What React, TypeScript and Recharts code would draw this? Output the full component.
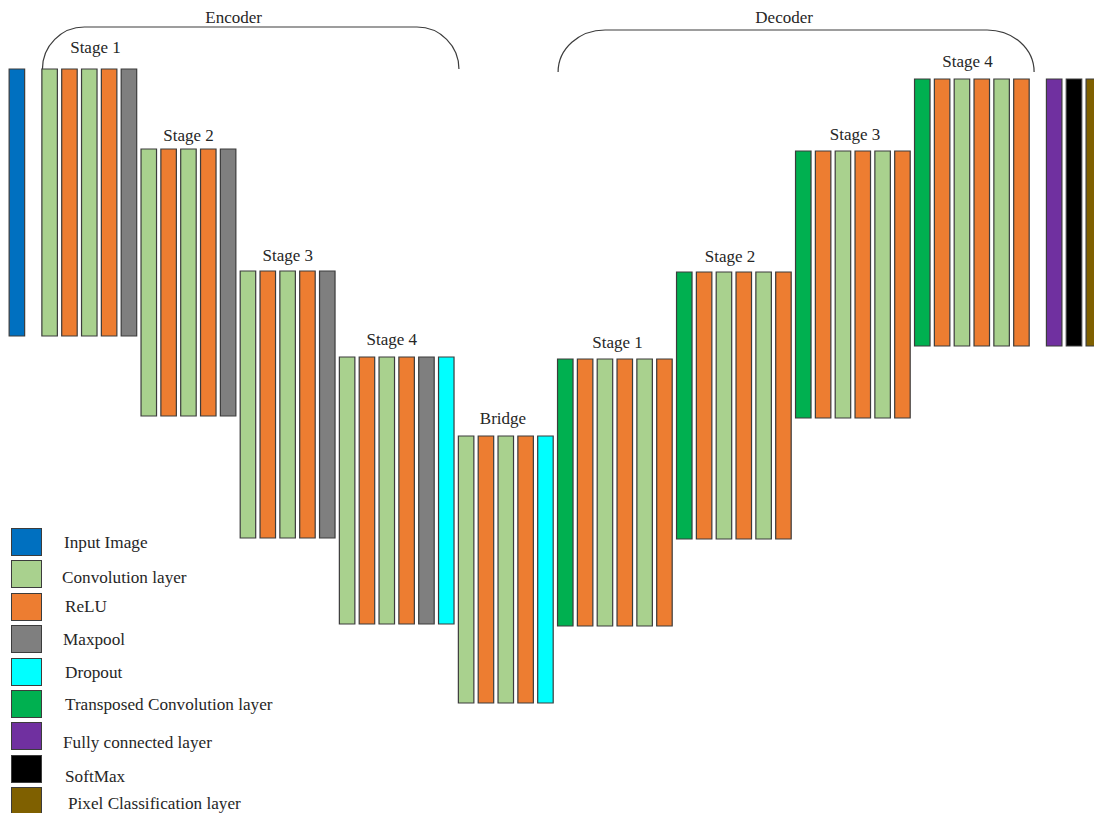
import React from "react";
import { ComposedChart, Bar, Cell, XAxis, YAxis, ReferenceArea, Legend } from "recharts";

type LayerType = "input" | "conv" | "relu" | "pool" | "drop" | "tconv" | "fc" | "softmax" | "pixel";

const LAYER_COLORS: Record<LayerType, string> = {
  input: "#0070C0",
  conv: "#A9D18E",
  relu: "#ED7D31",
  pool: "#7F7F7F",
  drop: "#00FFFF",
  tconv: "#00B050",
  fc: "#7030A0",
  softmax: "#000000",
  pixel: "#7F6000",
};

// legend
const legendTypes: LayerType[] = ["input", "conv", "relu", "pool", "drop", "tconv", "fc", "softmax", "pixel"];
const legendNames = [
  "Input Image",
  "Convolution layer",
  "ReLU",
  "Maxpool",
  "Dropout",
  "Transposed Convolution layer",
  "Fully connected layer",
  "SoftMax",
  "Pixel Classification layer",
];

// network stages, left to right
const stageNames = ["", "Stage 1", "Stage 2", "Stage 3", "Stage 4", "Bridge", "Stage 1", "Stage 2", "Stage 3", "Stage 4", ""];
const stageLayers: LayerType[][] = [
  ["input"],
  ["conv", "relu", "conv", "relu", "pool"],
  ["conv", "relu", "conv", "relu", "pool"],
  ["conv", "relu", "conv", "relu", "pool"],
  ["conv", "relu", "conv", "relu", "pool", "drop"],
  ["conv", "relu", "conv", "relu", "drop"],
  ["tconv", "relu", "conv", "relu", "conv", "relu"],
  ["tconv", "relu", "conv", "relu", "conv", "relu"],
  ["tconv", "relu", "conv", "relu", "conv", "relu"],
  ["tconv", "relu", "conv", "relu", "conv", "relu"],
  ["fc", "softmax", "pixel"],
];
const stageTop = [69, 69, 149, 271, 357, 436, 359, 272, 151, 79, 79];
const LAYER_DEPTH = 267;

// layout tweaks (px)
const GROUP_GAP = 0.65; // extra slot gap after input / before output
const HALF_BAR = 0.37;
const labelDx = [0, 6, 0, 0, -5, -3, 2.5, -4, 2, -4.5, 0];
const labelGap = [0, 16, 8, 10, 12, 12, 11, 10, 11, 12, 0];
const legendNudge = [
  [64, 1], [62, 4], [65, 0.5], [63, 0.5], [65, 1], [65, 1], [63, 6.5], [65, 8.5], [68, 3],
];

const FONT = "'Times New Roman', 'Liberation Serif', serif";
const INK = "#262626";
const EDGE = "#3c3c3c";

type Layer = { slot: number; type: LayerType; depth: [number, number] };
const layers: Layer[] = [];
const stageSpan: [number, number][] = [];
let cursor = 0;
stageLayers.forEach((types, s) => {
  if (s === 1 || s === stageLayers.length - 1) cursor += GROUP_GAP;
  const first = cursor;
  types.forEach((t) => {
    layers.push({ slot: cursor, type: t, depth: [stageTop[s] + LAYER_DEPTH, stageTop[s]] });
    cursor += 1;
  });
  stageSpan.push([first, cursor - 1]);
});

const Brace = (props: any) => {
  const { x, y, width, height, title, rx, dx, dy } = props;
  const x0 = Math.min(x, x + width);
  const w = Math.abs(width);
  const y0 = Math.min(y, y + height);
  const h = Math.abs(height);
  const d = `M ${x0} ${y0 + h} A ${rx} ${h} 0 0 1 ${x0 + rx} ${y0} L ${x0 + w - rx} ${y0} A ${rx} ${h} 0 0 1 ${x0 + w} ${y0 + h}`;
  return (
    <g>
      <path d={d} fill="none" stroke={EDGE} strokeWidth={1.2} />
      <text x={x0 + w / 2 + dx} y={y0 - dy} textAnchor="middle" fontFamily={FONT} fontSize={17} fill={INK}>
        {title}
      </text>
    </g>
  );
};

const StageTitle = (props: any) => {
  const { x, y, width, height, title, dx, gap } = props;
  const x0 = Math.min(x, x + width);
  const y0 = Math.min(y, y + height);
  return (
    <text x={x0 + Math.abs(width) / 2 + dx} y={y0 - gap} textAnchor="middle" fontFamily={FONT} fontSize={17} fill={INK}>
      {title}
    </text>
  );
};

const LegendBox = () => (
  <div style={{ position: "relative", width: 320, height: 293, fontFamily: FONT, color: INK }}>
    {legendTypes.map((t, i) => {
      const top = 8 + i * 32.4;
      return (
        <React.Fragment key={t}>
          <div
            style={{
              position: "absolute",
              left: 11,
              top,
              width: 31,
              height: 28,
              boxSizing: "border-box",
              border: `1.5px solid ${EDGE}`,
              background: LAYER_COLORS[t],
            }}
          />
          <div
            style={{
              position: "absolute",
              left: legendNudge[i][0],
              top: top + 14 + legendNudge[i][1] - 10,
              height: 20,
              lineHeight: "20px",
              fontSize: 17.2,
              whiteSpace: "nowrap",
            }}
          >
            {legendNames[i]}
          </div>
        </React.Fragment>
      );
    })}
  </div>
);

export default function App() {
  const encFrom = stageSpan[1][0] - HALF_BAR;
  const encTo = stageSpan[5][0] - HALF_BAR;
  const decFrom = stageSpan[6][0] - HALF_BAR;
  const decTo = stageSpan[9][1] + 1 - HALF_BAR;

  return (
    <div style={{ position: "absolute", left: 0, top: 0, background: "#fff" }}>
      <ComposedChart width={1094} height={813} data={layers} margin={{ top: 0, right: 0, bottom: 0, left: 0 }}>
        <XAxis type="number" dataKey="slot" domain={[-0.86, 54.2]} hide />
        <YAxis type="number" domain={[0, 813]} reversed hide />
        <ReferenceArea
          x1={encFrom}
          x2={encTo}
          y1={27}
          y2={69}
          shape={(p: any) => <Brace {...p} title="Encoder" rx={42} dx={-17} dy={4} />}
        />
        <ReferenceArea
          x1={decFrom}
          x2={decTo}
          y1={30}
          y2={72}
          shape={(p: any) => <Brace {...p} title="Decoder" rx={47} dx={-12} dy={7} />}
        />
        {stageNames.map((name, s) =>
          name ? (
            <ReferenceArea
              key={`stage-${s}`}
              x1={stageSpan[s][0] - HALF_BAR}
              x2={stageSpan[s][1] + HALF_BAR}
              y1={stageTop[s]}
              y2={stageTop[s] + LAYER_DEPTH}
              shape={(p: any) => <StageTitle {...p} title={name} dx={labelDx[s]} gap={labelGap[s]} />}
            />
          ) : null
        )}
        <Bar dataKey="depth" barSize={15.5} stroke={EDGE} strokeWidth={1.2} isAnimationActive={false}>
          {layers.map((l, i) => (
            <Cell key={`cell-${i}`} fill={LAYER_COLORS[l.type]} />
          ))}
        </Bar>
        <Legend
          layout="vertical"
          align="center"
          verticalAlign="middle"
          wrapperStyle={{ left: 0, top: 520, width: 320, height: 293 }}
          content={() => <LegendBox />}
        />
      </ComposedChart>
    </div>
  );
}
